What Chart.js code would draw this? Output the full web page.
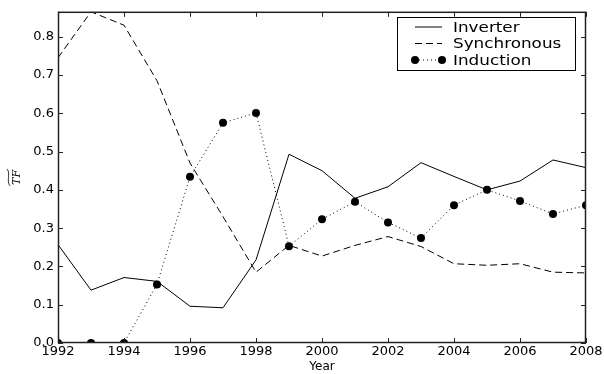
<!DOCTYPE html>
<html>
<head>
<meta charset="utf-8">
<script src="https://cdn.jsdelivr.net/npm/chart.js@4/dist/chart.umd.min.js"></script>
<style>
  html, body { margin: 0; padding: 0; background: #fff; }
  #wrap { width: 604px; height: 374px; }
</style>
</head>
<body>
<div id="wrap"><canvas id="myChart" width="604" height="374"></canvas></div>
<script>
const years = [1992, 1993, 1994, 1995, 1996, 1997, 1998, 1999, 2000, 2001, 2002, 2003, 2004, 2005, 2006, 2007, 2008];
const inverter = [0.257, 0.138, 0.171, 0.161, 0.096, 0.092, 0.217, 0.493, 0.450, 0.378, 0.408, 0.471, 0.435, 0.400, 0.423, 0.478, 0.458];
const synchronous = [0.745, 0.865, 0.830, 0.685, 0.470, 0.330, 0.185, 0.255, 0.227, 0.255, 0.278, 0.252, 0.207, 0.203, 0.207, 0.185, 0.183];
const induction = [0, 0, 0, 0.153, 0.434, 0.575, 0.601, 0.253, 0.323, 0.369, 0.315, 0.274, 0.360, 0.400, 0.371, 0.337, 0.360];
const yTicks = [0, 0.1, 0.2, 0.3, 0.4, 0.5, 0.6, 0.7, 0.8];
const xTicks = [1992, 1994, 1996, 1998, 2000, 2002, 2004, 2006, 2008];

const FONT = 'DejaVu Sans';

function toPoints(values) {
    return years.map((y, i) => ({ x: y, y: values[i] }));
}

// frame, inward ticks, y-axis label and legend box
const decorations = {
    id: 'decorations',
    afterDraw(chart) {
        const ctx = chart.ctx;
        const a = chart.chartArea;
        const xs = chart.scales.x;
        const ys = chart.scales.y;
        ctx.save();
        ctx.strokeStyle = '#222';
        ctx.lineWidth = 1.5;
        ctx.setLineDash([]);
        ctx.strokeRect(a.left + 0.5, a.top + 0.5, a.right - a.left - 1, a.bottom - a.top - 1);

        ctx.lineWidth = 1;
        ctx.beginPath();
        xTicks.forEach(t => {
            const px = Math.round(xs.getPixelForValue(t)) + 0.5;
            ctx.moveTo(px, a.bottom); ctx.lineTo(px, a.bottom - 5);
            ctx.moveTo(px, a.top); ctx.lineTo(px, a.top + 5);
        });
        yTicks.forEach(t => {
            const py = Math.round(ys.getPixelForValue(t)) + 0.5;
            ctx.moveTo(a.left, py); ctx.lineTo(a.left + 5, py);
            ctx.moveTo(a.right, py); ctx.lineTo(a.right - 5, py);
        });
        ctx.stroke();

        // y label: widetilde TF
        ctx.save();
        ctx.translate(20, (a.top + a.bottom) / 2);
        ctx.rotate(-Math.PI / 2);
        ctx.fillStyle = '#000';
        ctx.font = 'italic 11px "DejaVu Serif"';
        ctx.textAlign = 'center';
        ctx.textBaseline = 'alphabetic';
        ctx.fillText('TF', 0, 0);
        const w = ctx.measureText('TF').width;
        ctx.strokeStyle = '#000';
        ctx.beginPath();
        ctx.lineWidth = 0.8;
        ctx.moveTo(-w / 2 - 1, -10);
        ctx.bezierCurveTo(-w / 4, -14, w / 4, -9, w / 2 + 1, -13);
        ctx.stroke();
        ctx.restore();

        // legend
        const bx = 397, by = 17, bw = 178, bh = 53;
        ctx.fillStyle = '#fff';
        ctx.fillRect(bx, by, bw, bh);
        ctx.strokeStyle = '#000';
        ctx.lineWidth = 1;
        ctx.strokeRect(bx + 0.5, by + 0.5, bw, bh);
        chart.data.datasets.forEach((ds, i) => {
            const cy = by + 10 + i * 16.5;
            ctx.beginPath();
            ctx.setLineDash(ds.borderDash || []);
            ctx.lineWidth = 1;
            ctx.moveTo(415, cy); ctx.lineTo(442, cy);
            ctx.stroke();
            ctx.setLineDash([]);
            if (ds.pointRadius > 0) {
                ctx.fillStyle = '#000';
                [415, 442].forEach(px => {
                    ctx.beginPath();
                    ctx.arc(px, cy, ds.pointRadius, 0, Math.PI * 2);
                    ctx.fill();
                });
            }
            ctx.save();
            ctx.translate(453, cy + 1);
            ctx.scale(1.2, 1);
            ctx.fillStyle = '#000';
            ctx.font = '14px "' + FONT + '"';
            ctx.textBaseline = 'middle';
            ctx.textAlign = 'left';
            ctx.fillText(ds.label, 0, 0);
            ctx.restore();
        });
        ctx.restore();
    }
};

const ctx = document.getElementById('myChart').getContext('2d');
new Chart(ctx, {
    type: 'line',
    data: {
        datasets: [
            {
                label: 'Inverter',
                data: toPoints(inverter),
                borderColor: '#000',
                borderWidth: 1,
                pointRadius: 0,
                tension: 0
            },
            {
                label: 'Synchronous',
                data: toPoints(synchronous),
                borderColor: '#000',
                borderWidth: 1,
                borderDash: [7, 4],
                pointRadius: 0,
                tension: 0
            },
            {
                label: 'Induction',
                data: toPoints(induction),
                borderColor: '#000',
                borderWidth: 1,
                borderDash: [1, 3],
                pointRadius: 4,
                pointBackgroundColor: '#000',
                pointBorderColor: '#000',
                pointBorderWidth: 0,
                tension: 0
            }
        ]
    },
    options: {
        responsive: false,
        animation: false,
        layout: { padding: { top: 10, right: 18, left: 0, bottom: 0 } },
        plugins: {
            legend: { display: false },
            tooltip: { enabled: false }
        },
        scales: {
            x: {
                type: 'linear',
                min: 1992,
                max: 2008,
                grid: { display: false, drawTicks: false },
                border: { display: false },
                afterBuildTicks: scale => { scale.ticks = xTicks.map(v => ({ value: v })); },
                afterFit: scale => { scale.height = 31; },
                ticks: {
                    color: '#000',
                    font: { family: FONT, size: 13 },
                    padding: 1,
                    maxRotation: 0,
                    callback: v => String(v)
                },
                title: {
                    display: true,
                    text: 'Year',
                    color: '#000',
                    font: { family: FONT, size: 12 },
                    padding: 0
                }
            },
            y: {
                min: 0,
                max: 0.865,
                grid: { display: false, drawTicks: false },
                border: { display: false },
                afterBuildTicks: scale => { scale.ticks = yTicks.map(v => ({ value: v })); },
                afterFit: scale => { scale.width = 58; },
                ticks: {
                    color: '#000',
                    font: { family: FONT, size: 13 },
                    padding: 4,
                    callback: v => v.toFixed(1)
                }
            }
        }
    },
    plugins: [decorations]
});
</script>
</body>
</html>
